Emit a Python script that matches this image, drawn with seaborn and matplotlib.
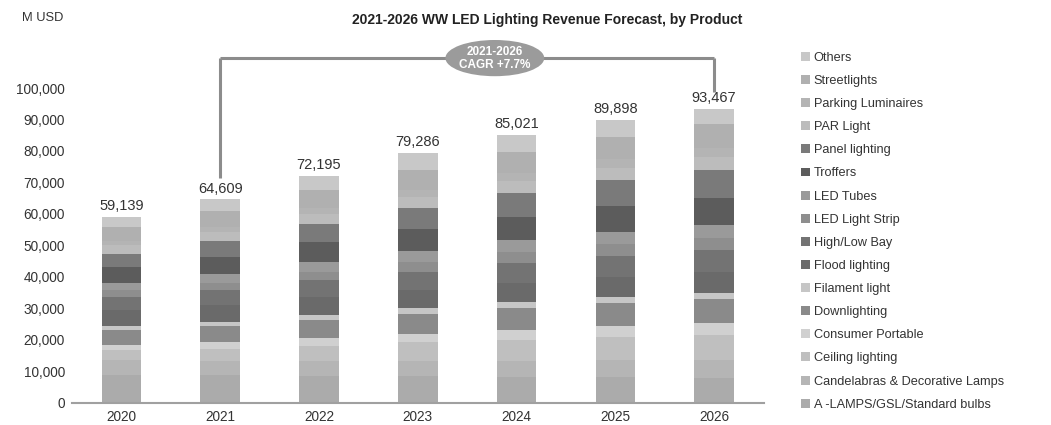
import matplotlib
matplotlib.use("Agg")
import matplotlib.pyplot as plt
from matplotlib.patches import Ellipse, Patch
from matplotlib.lines import Line2D
import numpy as np
import pandas as pd
import seaborn as sns

years = ["2020", "2021", "2022", "2023", "2024", "2025", "2026"]

# product segments, stacked bottom -> top
products = [
    "A -LAMPS/GSL/Standard bulbs",
    "Candelabras & Decorative Lamps",
    "Ceiling lighting",
    "Consumer Portable",
    "Downlighting",
    "Filament light",
    "Flood lighting",
    "High/Low Bay",
    "LED Light Strip",
    "LED Tubes",
    "Troffers",
    "Panel lighting",
    "PAR Light",
    "Parking Luminaires",
    "Streetlights",
    "Others",
]

a_lamps = [9000, 8800, 8600, 8400, 8200, 8100, 8000]
candelabras = [4500, 4600, 4800, 5000, 5200, 5400, 5500]
ceiling = [3200, 3800, 4800, 5800, 6700, 7400, 8000]
consumer_portable = [1800, 2000, 2400, 2800, 3200, 3600, 4000]
downlighting = [4800, 5200, 5800, 6300, 6800, 7200, 7500]
filament = [1200, 1400, 1600, 1700, 1800, 1900, 2000]
flood = [5000, 5300, 5600, 5900, 6200, 6400, 6500]
high_low_bay = [4200, 4700, 5300, 5800, 6300, 6700, 7000]
light_strip = [2000, 2400, 2800, 3200, 3500, 3800, 4000]
tubes = [2500, 2800, 3100, 3400, 3700, 3900, 4000]
troffers = [4800, 5400, 6200, 6900, 7500, 8000, 8500]
panel = [4200, 4900, 5800, 6700, 7600, 8300, 9000]
par_light = [3000, 3100, 3300, 3500, 3700, 3900, 4000]
parking = [1200, 1400, 1800, 2200, 2500, 2800, 3000]
streetlights = [4500, 5000, 5700, 6300, 6800, 7200, 7500]
others = [3239, 3809, 4595, 5386, 5321, 5298, 4967]

series = [a_lamps, candelabras, ceiling, consumer_portable, downlighting,
          filament, flood, high_low_bay, light_strip, tubes, troffers,
          panel, par_light, parking, streetlights, others]

greys = ["#ababab", "#b5b5b5", "#bfbfbf", "#d0d0d0", "#8a8a8a", "#c6c6c6",
         "#6a6a6a", "#737373", "#8e8e8e", "#9a9a9a", "#5c5c5c", "#7a7a7a",
         "#bcbcbc", "#b4b4b4", "#b0b0b0", "#c8c8c8"]
palette = dict(zip(products, greys))

rows = []
for name, vals in zip(products, series):
    for yr, v in zip(years, vals):
        rows.append({"year": int(yr), "product": name, "value": v})
df = pd.DataFrame(rows)

sns.set_theme(style="white")
plt.rcParams["font.family"] = ["Liberation Sans", "DejaVu Sans"]

fig = plt.figure(figsize=(10.51, 4.25), dpi=100)
ax = fig.add_axes([0.0685, 0.052, 0.658, 0.815])

# seaborn stacks the last hue level at the bottom, so feed the order reversed
sns.histplot(data=df, x="year", weights="value", hue="product",
             hue_order=products[::-1], multiple="stack", discrete=True,
             shrink=0.4, palette=palette, alpha=1, linewidth=0, legend=False,
             ax=ax)

totals = df.groupby("year")["value"].sum()
for yr, tot in totals.items():
    ax.text(yr, tot + 1200, f"{tot:,}", ha="center", va="bottom",
            fontsize=10.5, color="#333333")

ax.set_xlim(2019.5, 2026.5)
ax.set_ylim(0, 110000)
ax.set_yticks(np.arange(0, 100001, 10000))
ax.set_yticklabels([f"{v:,}" for v in range(0, 100001, 10000)])
ax.set_xticks([int(y) for y in years])
ax.set_xticklabels(years)
ax.tick_params(axis="both", labelsize=9.8, colors="#333333", length=0, pad=5)
ax.set_xlabel("")
ax.set_ylabel("")
for s in ["top", "right", "left"]:
    ax.spines[s].set_visible(False)
ax.spines["bottom"].set_color("#a0a0a0")
ax.spines["bottom"].set_linewidth(1.5)

# CAGR bracket between 2021 and 2026
bracket_y = 109500
line_kw = dict(color="#8c8c8c", lw=2.2, clip_on=False, solid_capstyle="butt")
ax.add_line(Line2D([2021, 2021], [71300, bracket_y], **line_kw))
ax.add_line(Line2D([2021, 2026], [bracket_y, bracket_y], **line_kw))
ax.add_line(Line2D([2026, 2026], [bracket_y, 98600], **line_kw))
ell = Ellipse((2023.78, bracket_y), width=1.0, height=11500,
              facecolor="#9b9b9b", edgecolor="none", clip_on=False, zorder=5)
ax.add_patch(ell)
ax.text(2023.78, bracket_y, "2021-2026\nCAGR +7.7%", ha="center", va="center",
        fontsize=8.5, fontweight="bold", color="white", zorder=6,
        linespacing=1.1)

fig.text(0.521, 0.953, "2021-2026 WW LED Lighting Revenue Forecast, by Product",
         ha="center", va="center", fontsize=10, fontweight="bold",
         color="#222222")
fig.text(0.021, 0.957, "M USD", ha="left", va="center", fontsize=9.3,
         color="#333333")

handles = [Patch(facecolor=palette[p], edgecolor="none") for p in products[::-1]]
fig.legend(handles, products[::-1], loc="upper left",
           bbox_to_anchor=(0.751, 0.905), frameon=False, fontsize=9.2,
           handlelength=0.7, handleheight=0.7, handletextpad=0.3,
           labelspacing=0.87, labelcolor="#333333")

fig.savefig("out.png", dpi=100, facecolor="white")
